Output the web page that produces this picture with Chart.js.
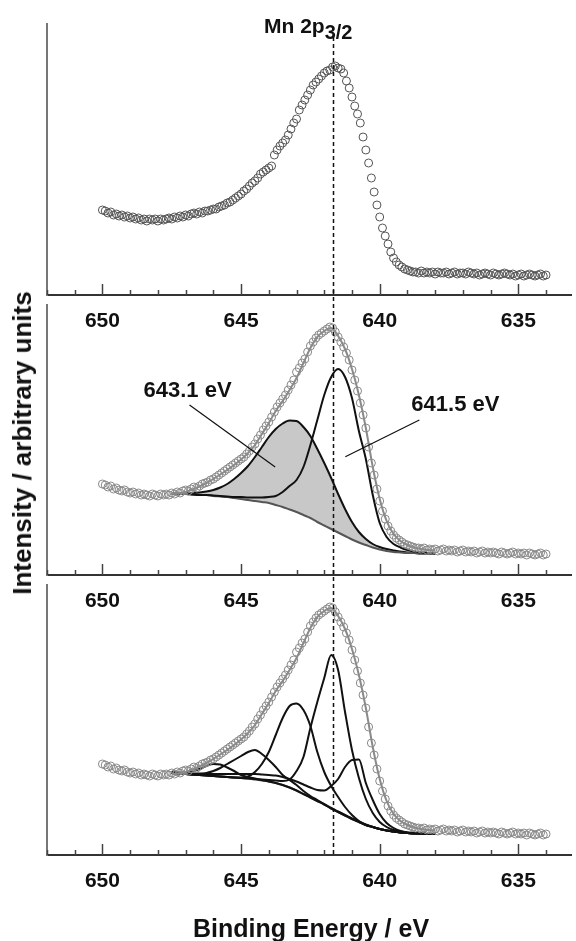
<!DOCTYPE html>
<html>
<head>
<meta charset="utf-8">
<script src="https://cdn.jsdelivr.net/npm/chart.js@4.4.1/dist/chart.umd.min.js"></script>
<style>
    body { margin: 0; background: #ffffff; }
    #wrap { position: relative; width: 576px; height: 941px; overflow: hidden; font-family: 'Liberation Sans', Arial, sans-serif; color: #111; }
    canvas { position: absolute; left: 0; }
    .lbl { position: absolute; font-weight: bold; white-space: nowrap; line-height: 1; }
    #title { left: 264px; top: 15px; font-size: 21px; }
    #title sub { font-size: 20px; vertical-align: -6px; }
    #ytitle { left: 22px; top: 443px; font-size: 26px; transform: translate(-50%, -50%) rotate(-90deg); }
    #xtitle { left: 311px; top: 928px; font-size: 25px; transform: translate(-50%, -50%); }
</style>
</head>
<body>
<div id="wrap">
    <canvas id="panelTop" width="576" height="340" style="top:0px"></canvas>
    <canvas id="panelMid" width="576" height="330" style="top:290px"></canvas>
    <canvas id="panelBot" width="576" height="371" style="top:570px"></canvas>
    <div class="lbl" id="title">Mn 2p<sub>3/2</sub></div>
    <div class="lbl" id="ytitle">Intensity / arbitrary units</div>
    <div class="lbl" id="xtitle">Binding Energy / eV</div>
</div>
<script>
// ===========================
// Data (binding energy in eV, intensity in arbitrary units)
// ===========================

// measured points, 650.0 -> 634.0 eV
const energy = [
    650.0, 649.9, 649.8, 649.7, 649.6, 649.5, 649.4, 649.3, 649.2, 649.1, 649.0,
    648.9, 648.8, 648.7, 648.6, 648.5, 648.4, 648.3, 648.2, 648.1, 648.0,
    647.9, 647.8, 647.7, 647.6, 647.5, 647.4, 647.3, 647.2, 647.1, 647.0,
    646.9, 646.8, 646.7, 646.6, 646.5, 646.4, 646.3, 646.2, 646.1, 646.0,
    645.9, 645.8, 645.7, 645.6, 645.5, 645.4, 645.3, 645.2, 645.1, 645.0,
    644.9, 644.8, 644.7, 644.6, 644.5, 644.4, 644.3, 644.2, 644.1, 644.0,
    643.9, 643.8, 643.7, 643.6, 643.5, 643.4, 643.3, 643.2, 643.1, 643.0,
    642.9, 642.8, 642.7, 642.6, 642.5, 642.4, 642.3, 642.2, 642.1, 642.0,
    641.9, 641.8, 641.7, 641.6, 641.5, 641.4, 641.3, 641.2, 641.1, 641.0,
    640.9, 640.8, 640.7, 640.6, 640.5, 640.4, 640.3, 640.2, 640.1, 640.0,
    639.9, 639.8, 639.7, 639.6, 639.5, 639.4, 639.3, 639.2, 639.1, 639.0,
    638.9, 638.8, 638.7, 638.6, 638.5, 638.4, 638.3, 638.2, 638.1, 638.0,
    637.9, 637.8, 637.7, 637.6, 637.5, 637.4, 637.3, 637.2, 637.1, 637.0,
    636.9, 636.8, 636.7, 636.6, 636.5, 636.4, 636.3, 636.2, 636.1, 636.0,
    635.9, 635.8, 635.7, 635.6, 635.5, 635.4, 635.3, 635.2, 635.1, 635.0,
    634.9, 634.8, 634.7, 634.6, 634.5, 634.4, 634.3, 634.2, 634.1, 634.0
];

// top panel spectrum
const topCounts = [
    85, 84, 82, 83, 80, 81, 79, 80, 78, 79, 77,
    78, 76, 77, 75, 76, 74, 76, 75, 76, 74,
    76, 75, 76, 77, 76, 78, 77, 79, 78, 80,
    79, 81, 82, 81, 83, 82, 84, 84, 85, 86,
    86, 88, 89, 90, 92, 93, 95, 97, 99, 101,
    104, 106, 109, 112, 114, 117, 121, 123, 125, 127,
    129, 140, 145, 149, 152, 155, 160, 166, 172, 176,
    185, 190, 195, 200, 205, 210, 213, 216, 219, 222,
    224, 225, 228, 229, 227, 226, 222, 214, 207, 198,
    189, 181, 172, 158, 145, 132, 117, 103, 90, 78,
    67, 59, 51, 43, 37, 33, 30, 28, 26, 25,
    24, 23, 23, 22, 24, 22, 23, 22, 23, 21,
    23, 22, 22, 23, 21, 22, 23, 21, 22, 22,
    21, 23, 22, 21, 22, 20, 21, 22, 21, 20,
    22, 21, 20, 21, 22, 21, 20, 21, 19, 20,
    21, 19, 20, 21, 20, 19, 20, 21, 19, 20
];

// spectrum used in the two fitted panels
const fitCounts = [
    91, 90, 88, 89, 86, 87, 85, 84, 85, 83, 82,
    83, 81, 82, 80, 81, 80, 79, 81, 80, 79,
    81, 80, 81, 80, 82, 81, 83, 82, 84, 85,
    84, 86, 88, 87, 89, 91, 92, 93, 95, 96,
    98, 100, 102, 104, 106, 108, 110, 112, 114, 116,
    118, 121, 124, 128, 131, 136, 140, 145, 149, 153,
    158, 163, 168, 172, 176, 180, 185, 190, 195, 203,
    207, 212, 216, 223, 229, 233, 237, 240, 242, 244,
    246, 248, 247, 243, 238, 233, 228, 222, 215, 205,
    195, 184, 172, 160, 147, 128, 112, 100, 86, 74,
    64, 56, 49, 44, 40, 37, 35, 33, 31, 30,
    29, 28, 27, 27, 26, 27, 25, 26, 25, 26,
    24, 25, 26, 24, 25, 24, 25, 23, 24, 25,
    23, 24, 23, 24, 22, 23, 24, 22, 23, 22,
    23, 22, 21, 23, 22, 21, 22, 23, 21, 22,
    21, 22, 20, 22, 21, 20, 21, 22, 20, 21
];

// fit curves, 647.5 -> 638.0 eV
const fitEnergy = [
    647.5, 647.25, 647.0, 646.75, 646.5, 646.25, 646.0, 645.75, 645.5, 645.25,
    645.0, 644.75, 644.5, 644.25, 644.0, 643.75, 643.5, 643.25, 643.0, 642.75,
    642.5, 642.25, 642.0, 641.75, 641.5, 641.25, 641.0, 640.75, 640.5, 640.25,
    640.0, 639.75, 639.5, 639.25, 639.0, 638.75, 638.5, 638.25, 638.0
];

const envelope = [
    81, 81.5, 83, 85.5, 88.5, 92, 96, 100.5, 105, 110,
    115.5, 122, 130, 141, 152, 164, 174, 185, 197, 212,
    227, 238, 244, 247, 239, 226, 206, 180, 147, 108,
    76, 54, 41, 34, 30, 27.5, 26, 25, 24.5
];

// middle panel: two components
const bgMid = [
    81, 81, 81, 80.5, 80, 80, 79, 78.5, 78, 77,
    76, 75, 74, 73, 72, 70, 68, 65.5, 63, 60,
    57, 53, 49.5, 46, 42.5, 39, 35.5, 32.5, 30, 27.5,
    25.5, 24, 23, 22.5, 22, 22, 21.5, 21.5, 21.5
];
const peak6431 = [
    81.5, 81.5, 82, 82, 82.5, 83.5, 85, 87.5, 91, 96,
    102, 109, 118, 128, 138, 146, 151.5, 154.5, 154, 148,
    139, 126, 112, 97, 81, 66, 53, 43, 36, 31,
    28, 26, 24.5, 23.5, 22.5, 22, 21.5, 21.5, 21.5
];
const peak6415 = [
    81, 81, 81, 80.5, 80, 80, 79.5, 79, 78.5, 78,
    78, 77.5, 77.5, 77.5, 78, 79, 83, 89, 95, 108,
    130, 155, 180, 198, 206, 198, 177, 144, 116, 80,
    52, 38, 31, 27.5, 25, 23.5, 22.5, 22, 21.5
];

// bottom panel: five components
const bgBot = [
    82, 81.5, 81, 80.5, 80, 79.5, 79, 78.5, 78, 77.5,
    77, 76.5, 75.5, 74.5, 73.5, 72, 70, 67.5, 64.5, 61,
    57.5, 54, 50.5, 46.5, 43, 39.5, 36, 33, 30, 28,
    26, 24.5, 23.5, 22.5, 22, 21.5, 21.5, 21, 21
];
const peak6460 = [
    82, 82, 82.5, 84, 86, 89, 91, 90.5, 87.5, 84,
    80, 78, 76.5, 75, 73.5, 72, 70, 67.5, 64.5, 61,
    57.5, 54, 50.5, 46.5, 43, 39.5, 36, 33, 30, 28,
    26, 24.5, 23.5, 22.5, 22, 21.5, 21.5, 21, 21
];
const peak6445 = [
    82, 81.5, 81, 80.5, 81, 82, 84, 87, 91, 95,
    99, 103, 105, 101, 95, 88, 80, 75, 70, 64,
    59, 55, 51, 47, 43.5, 40, 36.5, 33.5, 30.5, 28,
    26, 24.5, 23.5, 22.5, 22, 21.5, 21.5, 21, 21
];
const peak6431b = [
    82, 81.5, 81, 80.5, 80, 79.5, 79, 78.5, 78, 77.5,
    77.5, 78.5, 83, 91, 103, 120, 137, 149, 151.5, 145,
    129, 103, 83, 69, 58, 48, 40, 34, 30, 28,
    26, 24.5, 23.5, 22.5, 22, 21.5, 21.5, 21, 21
];
const peak6417 = [
    82, 81.5, 81, 80.5, 80, 79.5, 79, 78.5, 78, 77.5,
    77, 76.5, 76, 75.5, 75, 74.5, 74, 75.5, 84, 98,
    127, 153, 177, 200, 185, 143, 105, 77, 56, 42,
    33, 28, 25, 23.5, 22.5, 22, 21.5, 21, 21
];
const peak6409 = [
    83, 82.5, 82, 81.5, 81.5, 81, 81, 81, 81, 81,
    81, 81, 81, 80.5, 80, 79.5, 78, 76, 73.5, 70.5,
    67.5, 65, 64.5, 69, 76, 88, 95, 95.5, 72, 55,
    41, 32, 27, 24, 22.5, 22, 21.5, 21, 21
];

const majorTicks = [650, 645, 640, 635];
const peakMark = 641.7;

// ===========================
// Layout / style
// ===========================
const X_LEFT = 652.0;
const X_RIGHT = 633.1;
const FONT = "'Liberation Sans', Arial, sans-serif";

const midNotes = [
    { text: '643.1 eV', at: [646.93, 184], line: [[646.86, 170], [643.77, 108]] },
    { text: '641.5 eV', at: [637.27, 170], line: [[638.57, 155], [641.24, 118.3]] }
];

function toXY(xs, ys) {
    return xs.map((x, i) => ({ x: x, y: ys[i] }));
}

// ticks point into the plot, long ones at the labelled values
const innerTicks = {
    id: 'innerTicks',
    afterDraw(chart) {
        const sx = chart.scales.x;
        const ctx = chart.ctx;
        const y0 = chart.chartArea.bottom;
        ctx.save();
        ctx.strokeStyle = '#444';
        ctx.lineWidth = 1.5;
        sx.ticks.forEach(t => {
            const px = Math.round(sx.getPixelForValue(t.value)) + 0.5;
            const len = majorTicks.includes(t.value) ? 11 : 5;
            ctx.beginPath();
            ctx.moveTo(px, y0);
            ctx.lineTo(px, y0 - len);
            ctx.stroke();
        });
        ctx.restore();
    }
};

const peakLine = {
    id: 'peakLine',
    afterDraw(chart, args, opts) {
        const ctx = chart.ctx;
        const px = Math.round(chart.scales.x.getPixelForValue(peakMark)) + 0.5;
        ctx.save();
        ctx.strokeStyle = '#111';
        ctx.lineWidth = 1.5;
        ctx.setLineDash([4, 3]);
        ctx.beginPath();
        ctx.moveTo(px, opts.from || 0);
        ctx.lineTo(px, chart.chartArea.bottom);
        ctx.stroke();
        ctx.restore();
    }
};

const notes = {
    id: 'notes',
    afterDatasetsDraw(chart, args, opts) {
        if (!opts.items) return;
        const sx = chart.scales.x, sy = chart.scales.y, ctx = chart.ctx;
        ctx.save();
        ctx.strokeStyle = '#111';
        ctx.lineWidth = 1.2;
        ctx.fillStyle = '#111';
        ctx.font = 'bold 22px ' + FONT;
        ctx.textAlign = 'center';
        ctx.textBaseline = 'middle';
        opts.items.forEach(n => {
            const a = n.line[0], b = n.line[1];
            ctx.beginPath();
            ctx.moveTo(sx.getPixelForValue(a[0]), sy.getPixelForValue(a[1]));
            ctx.lineTo(sx.getPixelForValue(b[0]), sy.getPixelForValue(b[1]));
            ctx.stroke();
            ctx.fillText(n.text, sx.getPixelForValue(n.at[0]), sy.getPixelForValue(n.at[1]));
        });
        ctx.restore();
    }
};

function pointSet(counts, color) {
    return {
        data: toXY(energy, counts),
        showLine: false,
        pointRadius: 4,
        pointBorderWidth: 1,
        pointBorderColor: color,
        pointBackgroundColor: 'rgba(255, 255, 255, 0)'
    };
}

function curveSet(values, color, width, extra) {
    return Object.assign({
        data: toXY(fitEnergy, values),
        showLine: true,
        pointRadius: 0,
        borderColor: color,
        borderWidth: width,
        cubicInterpolationMode: 'monotone',
        fill: false
    }, extra || {});
}

function makePanel(id, datasets, yMax, padTop, xHeight, pluginOpts) {
    return new Chart(document.getElementById(id), {
        type: 'scatter',
        data: { datasets: datasets },
        options: {
            responsive: false,
            animation: false,
            events: [],
            layout: { padding: { top: padTop, left: 47, right: 0, bottom: 0 } },
            plugins: Object.assign({
                legend: { display: false },
                tooltip: { enabled: false }
            }, pluginOpts),
            scales: {
                x: {
                    type: 'linear',
                    reverse: true,
                    min: X_RIGHT,
                    max: X_LEFT,
                    afterFit(s) { s.height = xHeight; },
                    grid: { display: false, drawTicks: false },
                    border: { display: true, color: '#333', width: 2 },
                    ticks: {
                        stepSize: 1,
                        includeBounds: false,
                        autoSkip: false,
                        maxRotation: 0,
                        padding: 14,
                        color: '#111',
                        font: { family: FONT, size: 21, weight: 'bold' },
                        callback: v => majorTicks.includes(v) ? String(v) : ''
                    }
                },
                y: {
                    min: 0,
                    max: yMax,
                    afterFit(s) { s.width = 0; },
                    grid: { display: false, drawTicks: false },
                    border: { display: true, color: '#777', width: 2 },
                    ticks: { display: false }
                }
            }
        },
        plugins: [innerTicks, peakLine, notes]
    });
}

// top: raw spectrum
makePanel('panelTop', [pointSet(topCounts, '#555')], 271, 24, 45, {
    peakLine: { from: 37 }
});

// middle: two-component fit, 643.1 eV shaded down to the background
makePanel('panelMid', [
    pointSet(fitCounts, '#8a8a8a'),
    curveSet(envelope, '#8a8a8a', 2),
    curveSet(peak6415, '#111', 2),
    curveSet(bgMid, '#555', 2),
    curveSet(peak6431, '#111', 2, { fill: 3, backgroundColor: '#c8c8c8' })
], 270, 15, 45, {
    peakLine: { from: 0 },
    notes: { items: midNotes }
});

// bottom: five-component fit
makePanel('panelBot', [
    pointSet(fitCounts, '#8a8a8a'),
    curveSet(envelope, '#8a8a8a', 2),
    curveSet(peak6460, '#111', 2),
    curveSet(peak6445, '#111', 2),
    curveSet(peak6431b, '#111', 2),
    curveSet(peak6417, '#111', 2),
    curveSet(peak6409, '#111', 2),
    curveSet(bgBot, '#555', 2)
], 270, 15, 86, {
    peakLine: { from: 0 }
});
</script>
</body>
</html>
